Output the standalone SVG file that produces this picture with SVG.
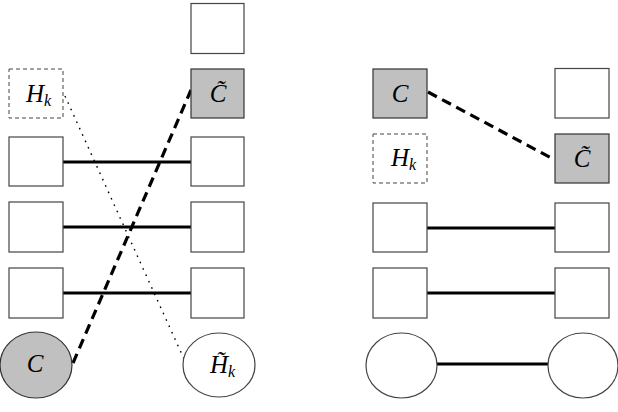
<svg xmlns="http://www.w3.org/2000/svg" width="618" height="412" viewBox="0 0 618 412">
<style>
.b{fill:#fff;stroke:#444;stroke-width:1.2}
.g{fill:#c0c0c0;stroke:#333;stroke-width:1.2}
.d{fill:#fff;stroke:#444;stroke-width:1;stroke-dasharray:4 3}
.m{font-family:"Liberation Serif","DejaVu Serif",serif;font-style:italic;font-size:25px;fill:#000}
.s{font-size:16px}
.solid{stroke:#000;stroke-width:3;fill:none}
.dash{stroke:#000;stroke-width:3.2;stroke-dasharray:10 6;fill:none}
.dot{stroke:#000;stroke-width:1.4;stroke-dasharray:1.6 5.4;fill:none}
</style>
<rect width="618" height="412" fill="#fff"/>
<g id="connectors">
<line class="solid" x1="63" y1="162" x2="191" y2="162"/>
<line class="solid" x1="63" y1="227" x2="191" y2="227"/>
<line class="solid" x1="63" y1="293" x2="191" y2="293"/>
<line class="dot" x1="65" y1="96" x2="184" y2="359"/>
<line class="dash" x1="73" y1="363" x2="191" y2="90"/>
<line class="dash" x1="428" y1="92" x2="555" y2="160"/>
<line class="solid" x1="427" y1="228" x2="555" y2="228"/>
<line class="solid" x1="427" y1="293" x2="555" y2="293"/>
<line class="solid" x1="437" y1="364" x2="548" y2="364"/>
</g>
<g id="L-top-right"><rect class="b" x="191" y="3.5" width="53" height="50"/></g>
<g id="L-Hk"><rect class="d" x="9" y="69" width="54" height="49"/><text class="m" x="26" y="102">H<tspan class="s" dy="4">k</tspan></text></g>
<g id="L-Ctilde"><rect class="g" x="191" y="69" width="53" height="49"/><text class="m" x="218" y="102" text-anchor="middle">C&#x303;</text></g>
<g id="L-r3a"><rect class="b" x="9" y="137" width="54" height="49"/></g>
<g id="L-r3b"><rect class="b" x="191" y="137" width="53" height="49"/></g>
<g id="L-r4a"><rect class="b" x="9" y="202" width="54" height="50"/></g>
<g id="L-r4b"><rect class="b" x="191" y="202" width="53" height="50"/></g>
<g id="L-r5a"><rect class="b" x="9" y="268" width="54" height="50"/></g>
<g id="L-r5b"><rect class="b" x="191" y="268" width="53" height="50"/></g>
<g id="L-C"><ellipse class="g" cx="36" cy="365" rx="36" ry="33"/><text class="m" x="35" y="372" text-anchor="middle">C</text></g>
<g id="L-Hktilde"><ellipse class="b" cx="219" cy="365" rx="36" ry="32"/><text class="m" x="210" y="373">H&#x303;<tspan class="s" dy="4">k</tspan></text></g>
<g id="R-C"><rect class="g" x="373" y="69" width="54" height="49"/><text class="m" x="400" y="102" text-anchor="middle">C</text></g>
<g id="R-top"><rect class="b" x="555" y="68.5" width="54" height="49.5"/></g>
<g id="R-Hk"><rect class="d" x="373" y="134" width="54" height="49"/><text class="m" x="391" y="166">H<tspan class="s" dy="4">k</tspan></text></g>
<g id="R-Ctilde"><rect class="g" x="555" y="134" width="54" height="49"/><text class="m" x="582" y="167" text-anchor="middle">C&#x303;</text></g>
<g id="R-r3a"><rect class="b" x="373" y="203" width="54" height="49"/></g>
<g id="R-r3b"><rect class="b" x="555" y="203" width="54" height="49"/></g>
<g id="R-r4a"><rect class="b" x="373" y="268" width="54" height="50"/></g>
<g id="R-r4b"><rect class="b" x="555" y="268" width="54" height="50"/></g>
<g id="R-e1"><ellipse class="b" cx="401.5" cy="365.5" rx="35.5" ry="32.5"/></g>
<g id="R-e2"><ellipse class="b" cx="583" cy="365.5" rx="35" ry="32.5"/></g>
</svg>
